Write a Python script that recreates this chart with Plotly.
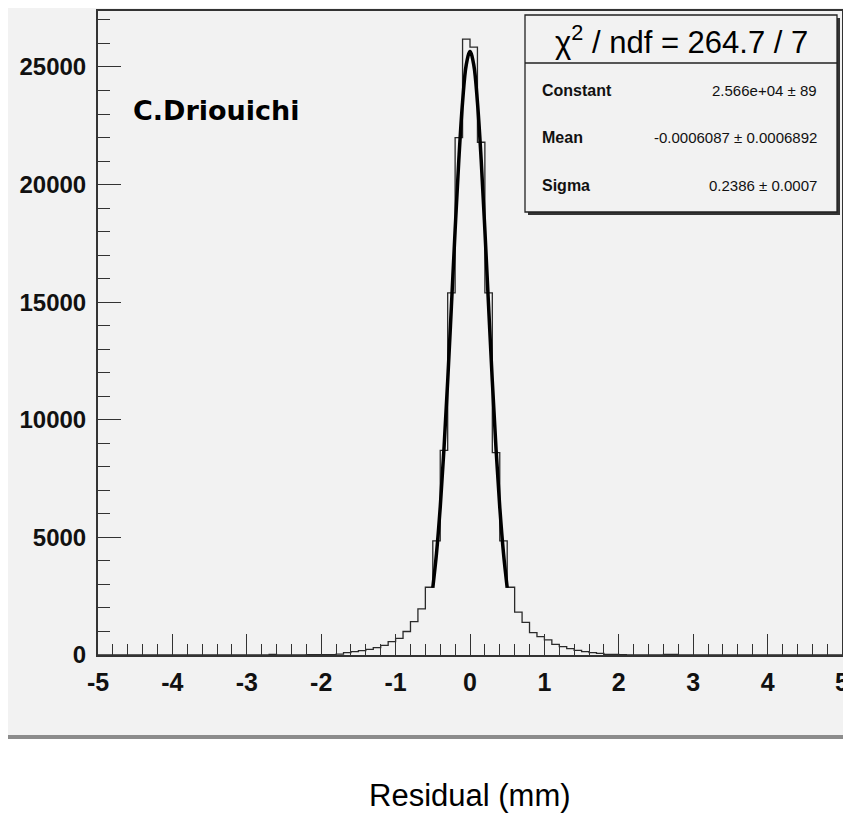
import plotly.graph_objects as go

# ---------------- data ----------------
bin_lo = -5.0
bin_width = 0.1
# histogram counts, 100 bins from -5 to 5 (left edge -5.0, -4.9, ...)
counts = [
    0, 0, 0, 0, 0, 0, 0, 0, 0, 0,          # -5.0 .. -4.1
    0, 0, 0, 0, 0, 0, 0, 0, 0, 0,          # -4.0 .. -3.1
    0, 0, 0, 30, 0, 5, 5, 8, 10, 12,       # -3.0 .. -2.1
    15, 20, 40, 100, 140, 185, 240, 310, 410, 570,   # -2.0 .. -1.1
    710, 1000, 1420, 1960, 2880, 4850, 8700, 15400, 22000, 26180,  # -1.0 .. -0.1
    25840, 21800, 15400, 8600, 4850, 2880, 1820, 1390, 950, 780,   # 0.0 .. 0.9
    640, 455, 355, 270, 200, 140, 100, 70, 30, 30,   # 1.0 .. 1.9
    10, 8, 5, 5, 3, 3, 25, 25, 0, 0,       # 2.0 .. 2.9
    0, 0, 0, 0, 0, 0, 0, 0, 0, 0,          # 3.0 .. 3.9
    0, 0, 0, 0, 0, 0, 0, 0, 0, 0,          # 4.0 .. 4.9
]
# fitted gaussian curve, read at x = -0.5 .. 0.5 step 0.05
fit_x = [-0.5, -0.45, -0.4, -0.35, -0.3, -0.25, -0.2, -0.15, -0.1, -0.05, 0.0,
         0.05, 0.1, 0.15, 0.2, 0.25, 0.3, 0.35, 0.4, 0.45, 0.5]
fit_y = [2860, 4330, 6290, 8750, 11640, 14820, 18060, 21060, 23500, 25100, 25660,
         25100, 23500, 21060, 18060, 14820, 11640, 8750, 6290, 4330, 2860]

x_ticks = [-5, -4, -3, -2, -1, 0, 1, 2, 3, 4, 5]
y_ticks = [0, 5000, 10000, 15000, 20000, 25000]

stats_title = "χ<sup>2</sup> / ndf = 264.7 / 7"
stats_names = ["Constant", "Mean", "Sigma"]
stats_values = ["2.566e+04 ± 89", "-0.0006087 ± 0.0006892", "0.2386 ± 0.0007"]
author = "C.Driouichi"
x_title = "Residual (mm)"

# ---------------- geometry helpers ----------------
OFF = 8  # page body margin
W, H = 851 - OFF, 832 - OFF
# plot frame in page pixels
L, R, T, B = 98, 842, 11, 655
PW, PH = R - L, B - T


def px(x):
    return (x - L) / PW


def py(y):
    return (B - y) / PH


SANS = "Liberation Sans, Arial, sans-serif"

edges = [bin_lo + bin_width * i for i in range(len(counts) + 1)]
step_y = counts + [counts[-1]]

fig = go.Figure()
fig.add_trace(go.Scatter(
    x=edges, y=step_y, mode="lines", line_shape="hv",
    line=dict(color="#2a2a2a", width=1.3), hoverinfo="skip", showlegend=False))
fig.add_trace(go.Scatter(
    x=fit_x, y=fit_y, mode="lines", line_shape="spline",
    line=dict(color="black", width=3.5), hoverinfo="skip", showlegend=False))

shapes = []
BG = "#f2f2f2"
# grey pad
shapes.append(dict(type="rect", xref="paper", yref="paper", layer="below",
                   x0=px(8), x1=px(851), y0=py(737), y1=py(0),
                   fillcolor=BG, line=dict(width=0)))
# pad bottom edge line
shapes.append(dict(type="line", xref="paper", yref="paper",
                   x0=px(8), x1=px(851), y0=py(737), y1=py(737),
                   line=dict(color="#8c8c8c", width=4)))
# stats box shadow
shapes.append(dict(type="rect", xref="paper", yref="paper",
                   x0=px(528), x1=px(840), y0=py(215), y1=py(18),
                   fillcolor="#333333", line=dict(width=0)))
# stats box
shapes.append(dict(type="rect", xref="paper", yref="paper",
                   x0=px(525), x1=px(837), y0=py(212), y1=py(15),
                   fillcolor=BG, line=dict(color="#222222", width=1.3)))
shapes.append(dict(type="line", xref="paper", yref="paper",
                   x0=px(525), x1=px(837), y0=py(63), y1=py(63),
                   line=dict(color="#222222", width=1.3)))

ann = []
ann.append(dict(text=stats_title, x=px(681), y=py(40), xref="paper", yref="paper",
                xanchor="center", yanchor="middle", showarrow=False,
                font=dict(family=SANS, size=31, color="black")))
rows_y = [90, 138, 185]
for name, val, yy in zip(stats_names, stats_values, rows_y):
    ann.append(dict(text=name, x=px(540), y=py(yy), xref="paper", yref="paper",
                    xanchor="left", yanchor="middle", showarrow=False,
                    font=dict(family=SANS, size=16, color="#111111", weight="bold")))
    ann.append(dict(text=val, x=px(819), y=py(yy), xref="paper", yref="paper",
                    xanchor="right", yanchor="middle", showarrow=False,
                    font=dict(family=SANS, size=15, color="#111111")))
ann.append(dict(text=author, x=px(216), y=py(111), xref="paper", yref="paper",
                xanchor="center", yanchor="middle", showarrow=False,
                font=dict(family="Comic Sans MS, DejaVu Sans, sans-serif", size=27,
                          color="black", weight="bold")))
ann.append(dict(text=x_title, x=px(470), y=py(795), xref="paper", yref="paper",
                xanchor="center", yanchor="middle", showarrow=False,
                font=dict(family=SANS, size=31, color="black")))

fig.update_layout(
    width=W, height=H,
    margin=dict(l=L - OFF, r=W - (R - OFF), t=T - OFF, b=H - (B - OFF), pad=0,
                autoexpand=False),
    paper_bgcolor="white", plot_bgcolor=BG,
    shapes=shapes, annotations=ann, showlegend=False,
)
fig.update_xaxes(
    range=[-5, 5], tickvals=x_ticks, ticktext=[str(v) for v in x_ticks],
    ticks="inside", ticklen=21, tickwidth=1.3, tickcolor="#333333",
    minor=dict(ticks="inside", ticklen=11, dtick=0.2, tickwidth=1.2, tickcolor="#333333"),
    showline=True, linecolor="#333333", linewidth=2, mirror=True,
    showgrid=False, zeroline=False, ticklabelstandoff=4, automargin=False,
    tickfont=dict(family=SANS, size=25, color="#111111", weight="bold"),
)
fig.update_yaxes(
    range=[0, 27380], tickvals=y_ticks, ticktext=[str(v) for v in y_ticks],
    ticks="inside", ticklen=23, tickwidth=1.3, tickcolor="#333333",
    minor=dict(ticks="inside", ticklen=12, dtick=1000, tickwidth=1.2, tickcolor="#333333"),
    showline=True, linecolor="#333333", linewidth=2, mirror=True,
    showgrid=False, zeroline=False, ticklabelstandoff=5, automargin=False,
    tickfont=dict(family=SANS, size=24, color="#111111", weight="bold"),
)

fig.write_html("out.html")
